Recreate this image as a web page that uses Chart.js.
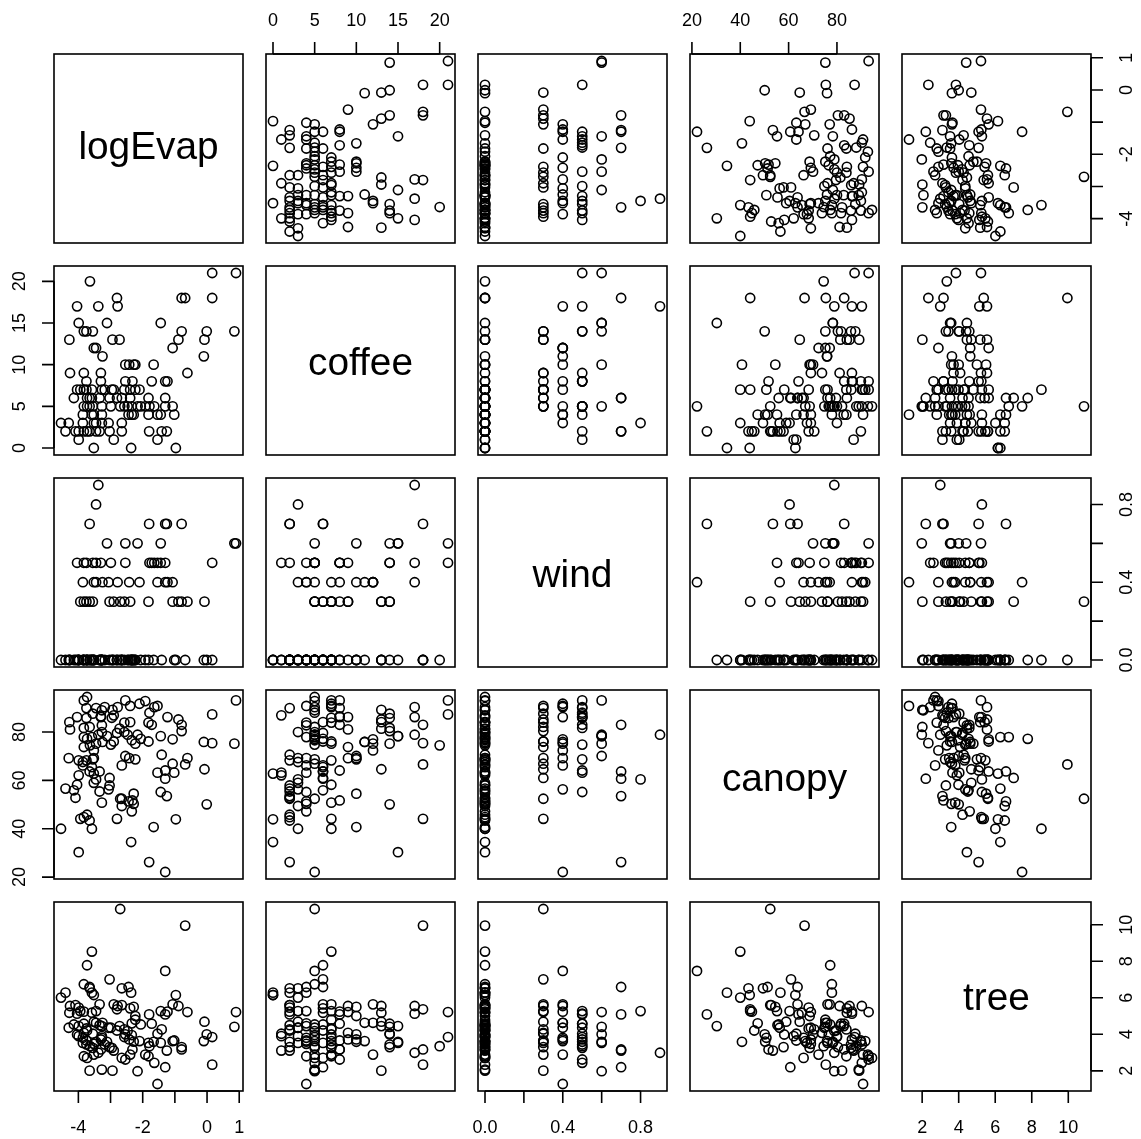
<!DOCTYPE html>
<html lang="en">
<head>
<meta charset="UTF-8">
<title>Scatterplot matrix</title>
<script src="https://cdn.jsdelivr.net/npm/chart.js"></script>
<style>
  body { margin: 0; background: #fff; }
  #wrap { position: relative; width: 1141px; height: 1139px; overflow: hidden; background: #fff; }
  #wrap canvas { position: absolute; }
</style>
</head>
<body>
<div id="wrap"></div>
<script>
const logEvap = [
  -4.54,-4.40,-4.30,-4.28,-4.26,-4.14,-4.09,-4.04,-4.04,-3.99,
  -3.99,-3.99,-3.94,-3.86,-3.86,-3.83,-3.83,-3.83,-3.83,-3.83,
  -3.75,-3.75,-3.75,-3.73,-3.73,-3.73,-3.65,-3.65,-3.65,-3.64,
  -3.58,-3.58,-3.58,-3.55,-3.55,-3.52,-3.52,-3.52,-3.52,-3.45,
  -3.45,-3.45,-3.38,-3.34,-3.34,-3.30,-3.30,-3.27,-3.27,-3.27,
  -3.27,-3.25,-3.18,-3.11,-3.06,-3.03,-3.03,-2.99,-2.96,-2.94,
  -2.90,-2.90,-2.80,-2.80,-2.78,-2.72,-2.70,-2.65,-2.65,-2.65,
  -2.57,-2.57,-2.54,-2.54,-2.47,-2.44,-2.42,-2.39,-2.39,-2.36,
  -2.34,-2.34,-2.32,-2.28,-2.28,-2.23,-2.23,-2.16,-2.10,-2.06,
  -1.92,-1.82,-1.82,-1.80,-1.79,-1.72,-1.66,-1.64,-1.54,-1.54,
  -1.44,-1.44,-1.41,-1.30,-1.30,-1.30,-1.25,-1.23,-1.07,-1.07,
  -1.02,-0.97,-0.89,-0.79,-0.79,-0.68,-0.61,-0.10,-0.08,-0.01,
  0.16,0.16,0.85,0.90
];
const coffee = [
  3,2,3,13,9,6,2,17,7,15,
  2,1,7,4,3,14,9,7,5,2,
  14,8,7,6,5,2,6,5,2,20,
  7,6,4,14,5,12,4,3,0,12,
  3,2,17,6,2,9,8,7,5,4,
  3,11,7,15,3,6,2,5,7,13,
  7,1,18,6,17,13,5,6,3,2,
  7,5,10,8,5,4,10,7,6,0,
  5,4,8,10,4,10,7,5,7,5,
  5,6,4,2,5,8,10,5,4,1,
  15,4,2,8,6,5,2,8,12,5,
  4,0,13,18,14,18,9,11,13,14,
  21,18,14,21
];
const wind = [
  0,0,0,0,0,0,0,0.5,0,0,
  0,0,0.3,0.4,0,0.5,0.3,0,0,0,
  0.5,0.3,0,0,0,0,0.7,0.3,0,0,
  0,0,0,0.3,0.5,0.4,0,0,0,0.4,
  0.8,0.5,0.9,0,0,0.5,0,0,0,0,
  0,0.4,0,0.6,0.4,0.3,0,0.5,0,0,
  0.3,0,0,0,0.4,0,0.3,0,0,0,
  0.3,0,0.6,0.5,0,0,0.4,0.3,0,0,
  0,0,0,0,0,0,0,0.6,0.4,0,
  0,0.3,0,0.7,0.5,0.5,0,0.5,0.4,0.5,
  0.6,0.5,0,0.5,0.7,0.4,0.7,0.4,0.4,0.3,
  0,0,0.3,0.7,0.3,0,0.3,0,0.3,0,
  0.5,0,0.6,0.6
];
const canopy = [
  40.0,56.6,69.2,84.1,81.1,55.9,52.8,86.2,58.2,30.3,
  68.3,62.1,44.1,66.2,67.6,81.7,73.8,93.1,77.9,44.8,
  85.8,89.9,68.3,77.2,94.5,45.8,63.7,82.1,43.4,74.5,
  40.0,65.5,77.9,87.6,68.7,72.4,69.2,59.0,62.8,75.2,
  60.4,89.9,78.9,63.7,55.4,86.2,86.5,50.8,89.0,82.8,
  80.0,75.9,90.3,78.3,56.3,61.0,57.9,74.8,85.9,89.2,
  76.1,86.9,44.1,79.6,90.3,81.4,52.4,66.2,49.4,52.4,
  83.9,80.0,70.1,93.1,78.9,51.3,69.2,90.8,84.1,34.5,
  76.6,47.2,51.7,54.5,50.3,68.7,75.2,78.9,91.7,77.2,
  92.8,76.1,83.9,26.2,88.0,83.0,40.7,90.3,90.8,63.2,
  78.3,55.2,70.6,64.1,60.7,22.1,53.5,86.2,77.0,66.9,
  63.2,43.9,85.2,83.0,80.4,66.6,69.2,75.9,64.6,50.1,
  87.3,75.4,75.2,93.1
];
const tree = [
  6.01,6.28,4.36,5.18,5.55,4.54,5.60,5.13,3.99,4.45,
  5.46,3.90,5.27,3.81,3.53,4.58,4.08,2.80,6.74,5.24,
  3.44,3.66,4.32,7.78,2.71,4.21,6.59,2.01,6.52,3.35,
  8.53,5.18,6.28,4.03,3.26,2.89,3.48,4.69,6.15,4.63,
  5.27,3.59,2.99,5.64,4.50,3.72,3.17,3.81,2.07,4.45,
  3.90,4.63,3.44,3.59,4.36,7.01,3.30,4.36,3.26,2.01,
  5.64,3.11,5.37,4.21,5.55,4.45,10.86,2.71,6.52,5.60,
  4.27,3.85,4.00,2.62,4.18,6.59,3.72,2.89,5.42,6.28,
  3.96,4.60,3.17,5.50,3.60,5.00,4.80,1.98,3.63,4.54,
  2.89,3.53,2.80,5.09,3.35,4.58,3.59,2.44,1.28,4.03,
  3.53,5.27,4.27,5.09,2.20,7.47,3.11,5.24,5.64,3.63,
  3.66,6.15,5.55,3.17,3.30,9.95,5.22,3.63,4.69,4.00,
  3.85,2.34,4.41,5.22
];

// tick marks and the labels that R keeps (blank = tick only)
const logEvapTicks = [-4, -3, -2, -1, 0, 1];
const logEvapTickLabels = ['-4', '', '-2', '', '0', '1'];
const coffeeTicks = [0, 5, 10, 15, 20];
const coffeeTickLabels = ['0', '5', '10', '15', '20'];
const windTicks = [0, 0.2, 0.4, 0.6, 0.8];
const windTickLabels = ['0.0', '', '0.4', '', '0.8'];
const canopyTicks = [20, 40, 60, 80];
const canopyTickLabels = ['20', '40', '60', '80'];
const treeTicks = [2, 4, 6, 8, 10];
const treeTickLabels = ['2', '4', '6', '8', '10'];

const names = ['logEvap', 'coffee', 'wind', 'canopy', 'tree'];

const vars = [
    { name: names[0], values: logEvap, ticks: logEvapTicks, labels: logEvapTickLabels },
    { name: names[1], values: coffee, ticks: coffeeTicks, labels: coffeeTickLabels },
    { name: names[2], values: wind, ticks: windTicks, labels: windTickLabels },
    { name: names[3], values: canopy, ticks: canopyTicks, labels: canopyTickLabels },
    { name: names[4], values: tree, ticks: treeTicks, labels: treeTickLabels }
];

const FONT = '"Liberation Sans", Arial, Helvetica, sans-serif';
const PANEL = 189, PITCH = 212, ORIGIN = 54, MARGIN = 60;
const TICK = 12;

// R pads each axis by 4% of the data range
vars.forEach(v => {
    const lo = Math.min(...v.values), hi = Math.max(...v.values);
    const pad = (hi - lo) * 0.04;
    v.min = lo - pad;
    v.max = hi + pad;
});

function drawAxis(chart, side, v) {
    const ctx = chart.ctx, a = chart.chartArea;
    const horiz = side === 'top' || side === 'bottom';
    const sc = horiz ? chart.scales.x : chart.scales.y;
    const px = v.ticks.map(t => sc.getPixelForValue(t));
    ctx.beginPath();
    if (side === 'top') {
        ctx.moveTo(px[0], a.top); ctx.lineTo(px[px.length - 1], a.top);
        px.forEach(p => { ctx.moveTo(p, a.top); ctx.lineTo(p, a.top - TICK); });
    } else if (side === 'bottom') {
        ctx.moveTo(px[0], a.bottom); ctx.lineTo(px[px.length - 1], a.bottom);
        px.forEach(p => { ctx.moveTo(p, a.bottom); ctx.lineTo(p, a.bottom + TICK); });
    } else if (side === 'left') {
        ctx.moveTo(a.left, px[0]); ctx.lineTo(a.left, px[px.length - 1]);
        px.forEach(p => { ctx.moveTo(a.left, p); ctx.lineTo(a.left - TICK, p); });
    } else {
        ctx.moveTo(a.right, px[0]); ctx.lineTo(a.right, px[px.length - 1]);
        px.forEach(p => { ctx.moveTo(a.right, p); ctx.lineTo(a.right + TICK, p); });
    }
    ctx.stroke();

    ctx.font = '18px ' + FONT;
    ctx.fillStyle = '#000';
    ctx.textAlign = 'center';
    ctx.textBaseline = 'middle';
    v.labels.forEach((lab, k) => {
        if (!lab) return;
        const p = px[k];
        if (side === 'top') {
            ctx.fillText(lab, p, a.top - 33);
        } else if (side === 'bottom') {
            ctx.fillText(lab, p, a.bottom + 37);
        } else {
            const x = side === 'left' ? a.left - 34 : a.right + 36;
            ctx.save();
            ctx.translate(x, p);
            ctx.rotate(-Math.PI / 2);
            ctx.fillText(lab, 0, 0);
            ctx.restore();
        }
    });
}

const wrap = document.getElementById('wrap');

for (let i = 0; i < 5; i++) {
    for (let j = 0; j < 5; j++) {
        const xv = vars[j], yv = vars[i];
        const left = ORIGIN + j * PITCH, top = ORIGIN + i * PITCH;
        const size = PANEL + 2 * MARGIN;

        const canvas = document.createElement('canvas');
        canvas.width = size;
        canvas.height = size;
        canvas.style.width = size + 'px';
        canvas.style.height = size + 'px';
        canvas.style.left = (left - MARGIN) + 'px';
        canvas.style.top = (top - MARGIN) + 'px';
        wrap.appendChild(canvas);

        const axes = [];
        if (i === 0 && j % 2 === 1) axes.push(['top', xv]);
        if (i === 4 && j % 2 === 0) axes.push(['bottom', xv]);
        if (j === 0 && i % 2 === 1) axes.push(['left', yv]);
        if (j === 4 && i % 2 === 0) axes.push(['right', yv]);

        const datasets = i === j ? [] : [{
            data: xv.values.map((x, k) => ({ x: x, y: yv.values[k] })),
            pointStyle: 'circle',
            pointRadius: 4.6,
            pointBorderWidth: 1.6,
            pointBorderColor: '#000',
            pointBackgroundColor: 'rgba(0,0,0,0)',
            borderColor: '#000',
            backgroundColor: 'rgba(0,0,0,0)',
            clip: false
        }];

        new Chart(canvas, {
            type: 'scatter',
            data: { datasets: datasets },
            options: {
                responsive: false,
                animation: false,
                events: [],
                layout: { padding: MARGIN },
                plugins: { legend: { display: false }, tooltip: { enabled: false } },
                scales: {
                    x: { type: 'linear', display: false, min: xv.min, max: xv.max },
                    y: { type: 'linear', display: false, min: yv.min, max: yv.max }
                }
            },
            plugins: [{
                id: 'pairsFrame',
                afterDraw(chart) {
                    const ctx = chart.ctx, a = chart.chartArea;
                    ctx.save();
                    ctx.strokeStyle = '#000';
                    ctx.lineWidth = 1.6;
                    ctx.strokeRect(a.left, a.top, a.right - a.left, a.bottom - a.top);
                    if (i === j) {
                        // variable name, centred on its ink box like R does
                        ctx.font = '38.8px ' + FONT;
                        ctx.fillStyle = '#000';
                        ctx.textAlign = 'center';
                        ctx.textBaseline = 'alphabetic';
                        const m = ctx.measureText(xv.name);
                        const cx = (a.left + a.right) / 2, cy = (a.top + a.bottom) / 2;
                        const yb = cy + (m.actualBoundingBoxAscent - m.actualBoundingBoxDescent) / 2;
                        ctx.fillText(xv.name, cx, yb);
                    }
                    axes.forEach(ax => drawAxis(chart, ax[0], ax[1]));
                    ctx.restore();
                }
            }]
        });
    }
}
</script>
</body>
</html>
